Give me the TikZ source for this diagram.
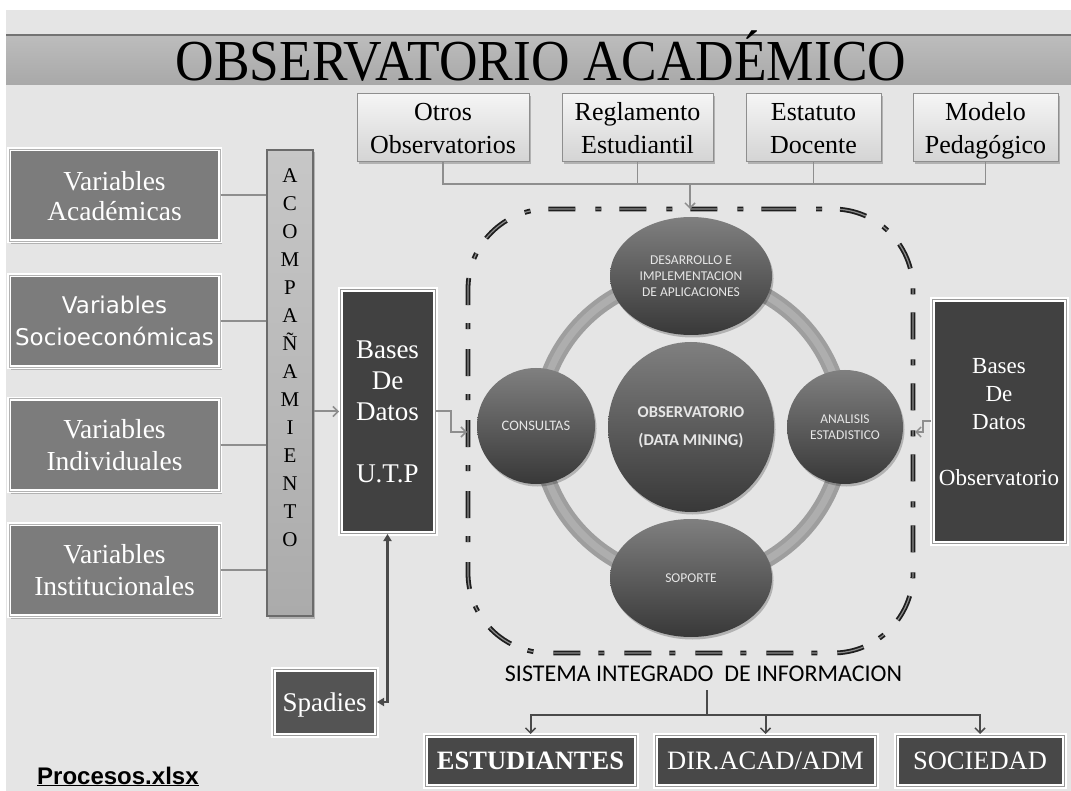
\documentclass[tikz,border=0pt]{standalone}
\usepackage{fontspec}
\setmainfont{Liberation Serif}
\newfontfamily\calib{Carlito}
\newfontfamily\arialf{Liberation Sans}
\newfontfamily\dejav{DejaVu Sans}
\usetikzlibrary{arrows.meta,shadows,shapes.geometric}
\newcommand\vtp{\rule{0pt}{0.95em}}
\newcommand\vbt{\rule[-0.25em]{0pt}{0.25em}}
\definecolor{bgc}{HTML}{E5E5E5}
\definecolor{varfill}{HTML}{7C7C7C}
\definecolor{darkfill}{HTML}{414141}
\definecolor{spafill}{HTML}{545454}
\definecolor{botfill}{HTML}{484848}
\definecolor{ringc}{HTML}{9E9E9E}
\definecolor{ringh}{HTML}{AEAEAE}
\definecolor{elltext}{HTML}{E6E6E6}
\definecolor{conng}{HTML}{8E8E8E}
\definecolor{conndark}{HTML}{4A4A4A}
\definecolor{dashc}{HTML}{1E1E1E}
\begin{document}
\begin{tikzpicture}[x=1pt,y=-1pt,
  shad/.style={drop shadow={shadow xshift=1.5pt,shadow yshift=-2.5pt,fill=black,opacity=.22}},
  topbox/.style={rectangle,inner sep=0pt,draw=conng,line width=1pt,top color=white!96!black,bottom color=black!17,shad,align=center,font=\fontsize{26}{33}\selectfont},
  varbox/.style={rectangle,inner sep=0pt,fill=varfill,draw=white,line width=1.5pt,double=black!30,double distance=1pt,shad,align=center,text=white,minimum width=211pt,minimum height=92pt},
  darkbox/.style={rectangle,inner sep=0pt,fill=darkfill,draw=white,line width=2pt,double=black!40,double distance=1pt,shad,align=center,text=white},
  ell/.style={ellipse,inner sep=0pt,top color=black!50,bottom color=black!78,align=center,text=elltext,shad},
  lconn/.style={draw=conng,line width=2pt},
  garrow/.style={draw=conng,line width=2pt,-{Straight Barb[length=5pt,width=10pt,line width=1.5pt]}},
  barrow/.style={draw=conndark,line width=2pt,-{Straight Barb[length=5pt,width=10pt,line width=1.5pt]}},
  sarrow/.style={draw=conndark,line width=2.5pt,{Triangle[length=7pt,width=8pt]}-{Triangle[length=7pt,width=8pt]}}
]
\useasboundingbox (0,0) rectangle (1071,791);
\fill[white] (0,0) rectangle (1071,791);
\fill[bgc] (6,10) rectangle (1071,791);
% title bar
\shade[top color=black!26,middle color=black!16,bottom color=black!34] (6,35) rectangle (1071,85);
\draw[black!55,line width=1.5pt] (6,35) -- (1071,35);
\node[anchor=base,inner sep=0pt,font=\fontsize{58}{58}\selectfont] (title) at (541,81) {\scalebox{0.92}[1]{OBSERVATORIO ACADÉMICO}};

% top boxes
\node[topbox,minimum width=172pt,minimum height=68pt] (o1) at (443,128) {\vtp Otros\\Observatorios\vbt};
\node[topbox,minimum width=151pt,minimum height=68pt] (o2) at (637.5,128) {\vtp Reglamento\\Estudiantil\vbt};
\node[topbox,minimum width=135pt,minimum height=68pt] (o3) at (813.5,128) {\vtp Estatuto\\Docente\vbt};
\node[topbox,minimum width=145pt,minimum height=68pt] (o4) at (985.5,128) {\vtp Modelo\\Pedagógico\vbt};

% left variable boxes
\node[varbox,font=\fontsize{27.5}{30}\selectfont] (va) at (114.5,195.5) {\vtp Variables\\Académicas\vbt};
\node[varbox,font=\dejav\fontsize{23}{32}\selectfont] (vs) at (114.5,321.5) {\vtp Variables\\Socioeconómicas\vbt};
\node[varbox,font=\fontsize{27.5}{32}\selectfont] (vi) at (114.5,445) {\vtp Variables\\Individuales\vbt};
\node[varbox,font=\fontsize{27.5}{32}\selectfont] (vn) at (114.5,570) {\vtp Variables\\Institucionales\vbt};

% column
\node[rectangle,inner sep=0pt,top color=black!22,bottom color=black!33,draw=black!58,line width=1.2pt,shad,minimum width=46pt,minimum height=466pt] (col) at (290,383) {};
\node[inner sep=0pt,align=center,font=\fontsize{21}{28}\selectfont] (colt) at (290,358) {A\\C\\O\\M\\P\\A\\Ñ\\A\\M\\I\\E\\N\\T\\O};

% bases UTP
\node[darkbox,minimum width=95pt,minimum height=243pt,font=\fontsize{27}{31}\selectfont] (butp) at (387.5,411.5) {\vtp Bases\\De\\Datos\\[31pt]U.T.P\vbt};
% bases observatorio
\node[darkbox,minimum width=134pt,minimum height=243pt,font=\fontsize{23}{28}\selectfont] (bobs) at (999,421.5) {\vtp Bases\\De\\Datos\\[28pt]Observatorio\vbt};
% spadies
\node[darkbox,fill=spafill,minimum width=103pt,minimum height=66pt,font=\fontsize{27}{30}\selectfont] (spa) at (324.5,702) {\vtp Spadies\vbt};

% bottom boxes
\node[darkbox,fill=botfill,minimum width=211pt,minimum height=51pt,font=\bfseries\fontsize{26.5}{30}\selectfont] (est) at (530.5,760.5) {\vtp ESTUDIANTES\vbt};
\node[darkbox,fill=botfill,minimum width=221pt,minimum height=51pt,font=\fontsize{26.5}{30}\selectfont] (dir) at (765.5,760.5) {\vtp DIR.ACAD/ADM\vbt};
\node[darkbox,fill=botfill,minimum width=168pt,minimum height=51pt,font=\fontsize{26.5}{30}\selectfont] (soc) at (980,760.5) {\vtp SOCIEDAD\vbt};

% ring
\draw[ringc,line width=16pt] (691,428) circle (152);
\draw[ringh,line width=7pt] (691,428) circle (152);

% circles
\node[ell,minimum width=162pt,minimum height=118pt,font=\calib\fontsize{13.5}{16}\selectfont] (des) at (691,276) {DESARROLLO E\\IMPLEMENTACION\\DE APLICACIONES};
\node[ell,minimum width=166pt,minimum height=170pt,font=\calib\bfseries\fontsize{16.5}{28}\selectfont] (obs) at (691,427) {OBSERVATORIO\\(DATA MINING)};
\node[ell,minimum width=118pt,minimum height=116pt,font=\calib\fontsize{14.5}{16}\selectfont] (con) at (536,426) {CONSULTAS};
\node[ell,minimum width=116pt,minimum height=114pt,font=\calib\fontsize{13.5}{16}\selectfont] (ana) at (845,427) {ANALISIS\\ESTADISTICO};
\node[ell,minimum width=162pt,minimum height=118pt,font=\calib\fontsize{13.5}{16}\selectfont] (sop) at (691,578) {SOPORTE};

% dash-dot system frame
\draw[dashc,line width=1.8pt,double=black!45,double distance=1.2pt,rounded corners=80pt,dash pattern=on 27pt off 20pt on 6pt off 18pt]
  (689,209) -- (913,209) -- (913,653) -- (468,653) -- (468,209) -- cycle;
\coordinate (siitop) at (690,209);
\coordinate (siil) at (467,432);
\coordinate (siir) at (915,432);
\node[inner sep=0pt,font=\calib\fontsize{24}{24}\selectfont] (sii) at (703.5,674) {SISTEMA INTEGRADO\ \ DE INFORMACION};

% top connectors
\coordinate (hl) at (690,184);
\draw[draw=conng,line width=1.5pt] (o1.south) -- (o1.south |- hl) -- (o4.south |- hl) -- (o4.south);
\draw[draw=conng,line width=1.5pt] (o2.south) -- (o2.south |- hl);
\draw[draw=conng,line width=1.5pt] (o3.south) -- (o3.south |- hl);
\draw[garrow,line width=1.5pt] (hl) -- (siitop);

% left connectors
\draw[lconn] (va.east) -- (va.east -| col.west);
\draw[lconn] (vs.east) -- (vs.east -| col.west);
\draw[lconn] (vi.east) -- (vi.east -| col.west);
\draw[lconn] (vn.east) -- (vn.east -| col.west);
\draw[garrow] (butp.west -| col.east) -- (butp.west);

% bases to system
\draw[garrow] (butp.east) -- ++(15,0) |- (siil);
\draw[garrow] (bobs.west) -- ++(-8,0) |- (siir);

% spadies
\draw[sarrow] (butp.south) -- (butp.south |- spa.east) -- (spa.east);

% bottom connectors
\coordinate (stem) at (707,690);
\coordinate (hb) at (707,715);
\draw[draw=conndark,line width=2pt] (stem) -- (hb);
\draw[barrow] (hb) -| (est.north);
\draw[barrow] (hb) -| (dir.north);
\draw[barrow] (hb) -| (soc.north);

% file name
\node[anchor=base west,inner sep=0pt,font=\arialf\bfseries\fontsize{24}{24}\selectfont] (proc) at (37,784) {\underline{Procesos.xlsx}};
\end{tikzpicture}
\end{document}
